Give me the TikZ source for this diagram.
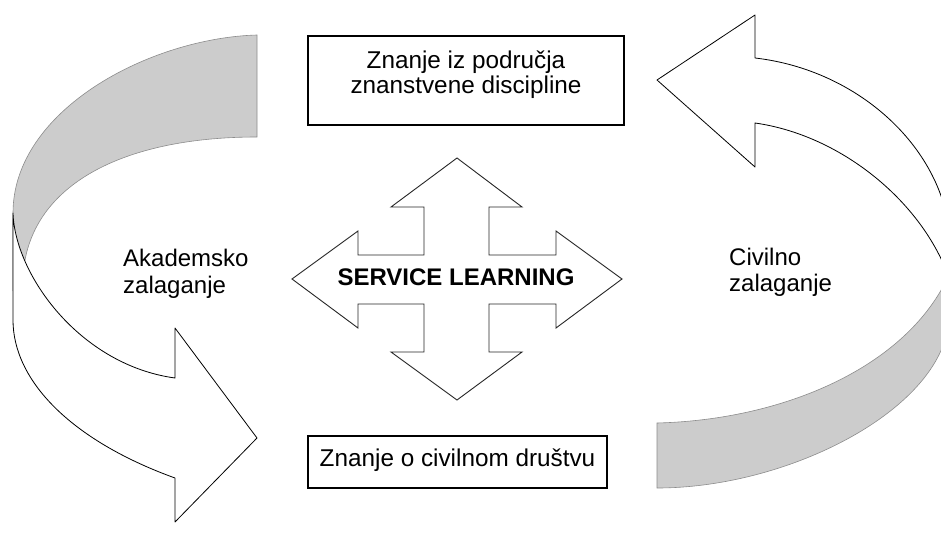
\documentclass[tikz,border=0pt]{standalone}
\usepackage{fontspec}
\setmainfont{Liberation Sans}
\begin{document}
\begin{tikzpicture}[x=1pt,y=-1pt,
  band/.style={draw=black, line width=0.8pt, fill=white, line join=round},
  back/.style={draw=black!45, line width=0.6pt, fill=black!20},
  cross/.style={draw=black!85, line width=0.9pt, fill=white, line join=miter},
  box/.style={draw=black, line width=1.2pt, fill=white, inner sep=0pt, font=\fontsize{24.3}{25}\selectfont, align=center},
  lbl/.style={inner sep=0pt, font=\fontsize{24}{26.5}\selectfont, align=left},
]
\useasboundingbox (0,0) rectangle (941,540);
\clip (0,0) rectangle (941,540);
% left curved arrow: back (grey) part
\path[back] (257,35) .. controls (150,38) and (13,110) .. (13,213) -- (13,290) -- (22,276) -- (25,260) .. controls (40,180) and (130,137) .. (257,137) -- cycle;
% left curved arrow: front (white) part
\path[band] (13,213) .. controls (15,275) and (80,365) .. (175,378) -- (175,328) -- (257,438) -- (175,522) -- (175,478) .. controls (70,440) and (13,380) .. (13,320) -- cycle;
% right curved arrow: back (grey) part
\path[back] (657,423) .. controls (780,420) and (900,370) .. (945,283) -- (960,283) -- (960,340) -- (945,340) .. controls (920,420) and (780,488) .. (657,488) -- cycle;
% right curved arrow: front (white) part
\path[band] (755,123) -- (755,167) -- (657,80) -- (755,15) -- (755,58) .. controls (860,70) and (945,150) .. (950,240) -- (970,240) -- (970,280) -- (948,275) .. controls (920,200) and (840,135) .. (755,123) -- cycle;
% central four-way arrow
\path[cross] (457,158) -- (522,207) -- (489,207) -- (489,255) -- (556,255) -- (556,231) -- (622,279) -- (556,328) -- (556,304) -- (489,304) -- (489,352) -- (522,352) -- (457,400) -- (391,352) -- (424,352) -- (424,304) -- (358,304) -- (358,328) -- (292,279) -- (358,231) -- (358,255) -- (424,255) -- (424,207) -- (391,207) -- cycle;
\node[font=\bfseries\fontsize{24}{26}\selectfont, inner sep=0pt, anchor=base] (sl) at (456,285) {SERVICE LEARNING};
% boxes
\node[box, minimum width=316pt, minimum height=89pt, text height=40pt, text depth=14.4pt] (disc) at (466,80.5) {Znanje iz područja\\znanstvene discipline};
\node[box, minimum width=299pt, minimum height=52pt, text height=15pt, text depth=7pt] (civ) at (457.5,462) {Znanje o civilnom društvu};
% side labels
\node[lbl, anchor=base west] (ak) at (123,293.3) {Akademsko\\zalaganje};
\node[lbl, anchor=base west] (ci) at (729,291.7) {Civilno\\zalaganje};
\end{tikzpicture}
\end{document}
